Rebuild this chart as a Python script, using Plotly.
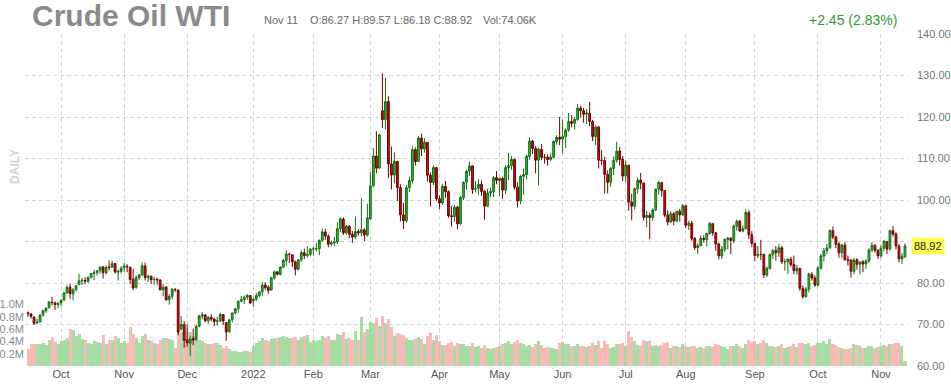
import pandas as pd
import plotly.graph_objects as go

# ---------------- data ----------------
holidays = ["2021-11-25", "2021-12-24", "2022-01-17", "2022-02-21", "2022-04-15",
            "2022-05-30", "2022-06-20", "2022-07-04", "2022-09-05"]
start_date = "2021-09-16"
end_date = "2022-11-11"

opens = [
    72.80, 72.55, 71.80, 70.40, 70.60, 72.30, 73.30, 74.10, 75.40, 75.20, 74.80,
    75.20, 75.90, 77.60, 79.00, 77.40, 78.40, 79.60, 80.50, 80.60, 80.40, 81.40, 82.30, 82.50, 83.00, 83.90, 82.50, 83.90, 83.80, 84.70, 82.60, 82.80,
    83.70, 84.00, 83.80, 80.90, 79.00, 81.30, 81.90, 84.10, 81.30, 81.60, 80.80, 80.90, 80.70, 78.40, 79.00, 76.00, 76.80, 78.40, 78.30, 69.00, 70.00,
    66.30, 65.50, 66.60, 66.30, 69.60, 72.00, 72.30, 70.90, 71.70, 71.30, 70.70, 70.90, 72.40, 70.50, 68.30, 71.20, 72.80, 73.80, 75.60, 76.00, 76.60, 77.00,
    75.70, 76.10, 77.00, 77.90, 79.50, 79.00, 78.30, 81.20, 82.70, 82.10, 83.80, 85.40, 86.90, 86.80, 85.10, 83.30, 85.60, 87.30, 86.60, 86.90,
    88.20, 88.20, 88.30, 90.30, 92.30, 91.30, 89.40, 89.70, 89.90, 93.10, 95.40, 92.10, 93.60, 91.80, 91.10, 92.40, 92.10, 92.80, 91.60,
    95.50, 103.50, 110.60, 107.70, 121.50, 119.40, 123.70, 108.70, 106.00, 109.30, 103.00, 96.40, 95.00, 103.00, 104.70, 112.10, 109.30, 114.90, 112.30, 113.90, 106.00, 104.20, 107.80,
    100.30, 99.30, 103.30, 102.00, 96.20, 96.00, 98.30, 94.30, 100.60, 104.30, 107.00, 108.20, 102.60, 102.80, 103.80, 102.10, 98.50, 101.70, 102.00, 105.40,
    104.70, 105.20, 102.40, 107.80, 108.30, 109.80, 103.10, 99.80, 105.70, 106.10, 110.50, 114.20, 112.40, 109.60, 112.20, 110.30, 110.30, 109.80, 110.30, 114.10, 115.10,
    114.70, 115.30, 116.90, 118.90, 118.50, 119.40, 122.10, 121.50, 120.70, 120.90, 118.90, 115.30, 117.60, 109.60, 109.50, 106.20, 104.30, 107.60, 109.60, 111.80, 109.80,
    105.80, 108.40, 99.50, 98.50, 102.70, 104.80, 104.10, 95.80, 96.30, 95.80, 97.60, 102.60, 104.20, 102.30, 96.40, 94.70, 96.70, 95.00, 97.30, 96.40,
    98.60, 93.90, 94.40, 90.70, 88.50, 89.00, 90.80, 90.50, 91.90, 94.30, 92.10, 89.40, 86.50, 88.10, 90.50, 90.80, 90.20, 93.70, 94.90, 92.50, 93.10, 97.00, 91.60,
    89.50, 86.60, 86.90, 86.90, 81.90, 83.50, 86.80, 87.80, 87.30, 88.50, 85.10, 85.10, 85.70, 84.50, 82.90, 83.50, 78.70, 76.70, 78.50, 82.10, 81.20,
    79.50, 83.60, 86.50, 87.80, 88.50, 92.60, 91.10, 89.40, 87.30, 89.10, 85.60, 85.50, 82.80, 85.60, 84.50, 85.10, 84.60, 85.30, 87.90, 89.10, 87.90,
    86.50, 88.40, 90.00, 88.20, 92.60, 91.80, 88.90, 85.80, 86.27,
]

highs = [
    73.15, 72.75, 71.95, 71.40, 72.50, 73.60, 74.10, 75.60, 76.67, 75.50, 75.40,
    76.00, 77.80, 79.50, 79.78, 78.80, 79.48, 82.18, 81.20, 81.40, 81.60, 82.40, 83.20, 83.10, 83.90, 84.00, 84.20, 85.40, 85.41, 84.80, 83.20, 84.00,
    84.88, 84.50, 83.90, 83.40, 81.80, 82.20, 84.97, 84.90, 82.00, 81.80, 81.50, 81.30, 80.90, 79.80, 79.30, 77.30, 78.80, 78.80, 78.40, 72.00, 70.80,
    70.00, 67.30, 69.00, 69.90, 72.37, 73.00, 72.50, 72.10, 72.50, 71.60, 71.80, 72.80, 72.50, 70.60, 71.30, 72.90, 73.90, 75.80, 76.90, 77.00, 77.30, 77.10,
    76.50, 77.60, 78.00, 80.24, 80.20, 79.40, 81.50, 83.00, 82.90, 84.00, 85.80, 87.90, 87.30, 86.90, 85.40, 85.70, 87.90, 88.30, 88.84, 88.40,
    88.80, 89.70, 90.50, 93.17, 93.00, 91.70, 90.20, 91.10, 94.66, 95.82, 95.80, 94.00, 94.00, 92.50, 96.00, 93.00, 100.54, 93.20, 99.10,
    106.78, 112.51, 116.57, 116.00, 130.50, 129.44, 125.00, 112.90, 111.50, 109.40, 103.80, 99.30, 103.60, 105.60, 112.90, 112.70, 115.40, 116.00, 114.90, 114.00, 106.60, 108.40, 108.00,
    101.10, 103.80, 104.60, 102.30, 98.60, 98.80, 98.60, 101.00, 104.50, 107.20, 109.20, 108.40, 104.50, 105.00, 104.70, 102.30, 102.70, 103.00, 105.80, 107.00,
    105.40, 105.60, 108.40, 111.37, 110.60, 110.00, 104.30, 106.00, 107.60, 110.90, 115.10, 114.50, 113.00, 112.60, 113.50, 111.10, 111.00, 111.20, 114.40, 115.60, 119.98,
    119.40, 117.20, 120.99, 120.50, 120.00, 123.18, 122.70, 122.20, 122.00, 123.68, 119.30, 118.00, 117.80, 112.00, 110.40, 107.10, 107.90, 110.50, 114.05, 112.80, 110.60,
    109.50, 108.40, 101.50, 103.00, 105.40, 106.50, 104.20, 97.30, 97.00, 98.00, 102.70, 104.60, 104.40, 102.30, 97.50, 97.30, 97.10, 97.40, 97.90, 99.10,
    98.80, 95.00, 95.00, 91.10, 89.60, 91.40, 91.50, 92.00, 94.70, 94.40, 92.20, 89.70, 88.90, 90.70, 91.10, 91.00, 94.10, 95.30, 95.20, 93.90, 97.70, 97.50, 92.50,
    89.80, 88.90, 90.40, 87.00, 84.00, 87.10, 88.20, 88.90, 89.40, 88.90, 85.90, 86.00, 86.30, 86.60, 84.40, 83.70, 79.40, 79.00, 82.50, 82.60, 81.80,
    84.00, 87.00, 88.40, 89.40, 92.90, 93.64, 91.30, 89.90, 89.50, 89.80, 86.60, 85.80, 86.00, 86.00, 85.20, 85.50, 85.70, 88.40, 89.80, 89.30, 88.10,
    89.10, 90.40, 90.10, 92.90, 93.74, 92.20, 89.40, 87.20, 89.57,
]

lows = [
    71.80, 71.40, 69.90, 70.10, 70.50, 71.90, 72.80, 73.80, 74.60, 73.50, 73.90,
    74.30, 75.60, 77.40, 76.20, 75.80, 78.00, 79.50, 79.50, 79.70, 80.00, 81.10, 80.70, 81.80, 82.20, 81.10, 82.00, 83.10, 83.70, 82.30, 80.60, 82.30,
    82.70, 82.60, 79.80, 78.25, 78.60, 80.70, 81.80, 80.60, 80.20, 79.80, 79.60, 79.60, 78.20, 76.80, 75.70, 74.80, 76.10, 77.80, 67.40, 68.50, 64.40,
    64.60, 62.43, 65.00, 66.20, 69.30, 71.20, 70.50, 70.20, 70.80, 69.60, 69.70, 70.60, 69.90, 66.10, 68.00, 70.50, 72.50, 72.80, 75.40, 75.00, 75.90, 74.90,
    74.30, 75.70, 76.50, 76.80, 78.30, 77.40, 78.10, 80.80, 81.80, 81.80, 83.60, 84.20, 84.80, 83.80, 81.80, 83.00, 85.10, 85.80, 86.10, 86.40,
    86.60, 87.60, 86.70, 89.90, 90.40, 88.60, 88.80, 88.90, 89.40, 92.20, 91.60, 91.60, 90.80, 89.70, 90.60, 91.40, 91.20, 90.10, 91.20,
    95.20, 103.00, 106.40, 107.40, 117.30, 117.00, 105.33, 102.50, 104.00, 99.76, 94.82, 93.00, 94.50, 101.90, 104.00, 108.30, 109.10, 110.60, 111.40, 104.50, 98.44, 103.60, 99.80,
    97.80, 98.80, 100.50, 95.70, 93.60, 94.80, 92.93, 93.90, 100.00, 102.50, 105.80, 101.50, 101.80, 101.30, 101.00, 95.28, 98.30, 100.60, 100.70, 103.80,
    101.00, 100.30, 101.40, 104.80, 107.30, 102.50, 98.20, 99.00, 101.30, 105.00, 109.70, 111.10, 106.40, 103.50, 109.60, 108.80, 108.30, 109.40, 110.00, 113.30, 113.20,
    111.20, 112.50, 116.40, 117.50, 117.00, 119.10, 119.90, 118.60, 118.30, 117.80, 114.20, 113.20, 107.60, 108.40, 101.53, 101.60, 103.20, 106.00, 109.00, 108.30, 104.56,
    104.30, 97.43, 95.10, 97.70, 101.50, 102.60, 95.10, 93.50, 90.56, 95.00, 97.40, 101.30, 100.80, 95.80, 93.90, 94.50, 93.90, 94.60, 94.80, 96.20,
    93.20, 92.80, 90.20, 87.90, 87.00, 88.80, 89.70, 88.80, 91.80, 91.40, 87.80, 85.70, 85.80, 87.50, 88.10, 86.90, 89.60, 92.60, 92.30, 92.20, 92.90, 90.60, 88.70,
    85.30, 86.00, 85.50, 81.20, 81.50, 83.30, 85.80, 85.40, 86.30, 84.60, 83.00, 82.20, 83.90, 82.10, 82.00, 78.10, 76.25, 76.40, 77.70, 80.60, 79.10,
    79.20, 83.20, 85.20, 87.00, 88.30, 90.60, 88.40, 86.10, 85.90, 85.40, 84.20, 81.30, 82.10, 83.20, 82.10, 82.60, 83.40, 84.80, 87.40, 87.30, 85.80,
    86.10, 87.60, 87.00, 87.80, 91.20, 88.10, 85.00, 84.60, 86.18,
]

closes = [
    72.61, 71.97, 70.29, 70.56, 72.23, 73.30, 73.98, 75.45, 75.29, 74.83, 75.03,
    75.88, 77.62, 78.93, 77.43, 78.30, 79.35, 80.52, 80.64, 80.44, 81.31, 82.28, 82.44, 82.96, 83.87, 82.50, 83.76, 83.76, 84.65, 82.66, 82.81, 83.57,
    84.05, 83.91, 80.86, 78.81, 81.27, 81.93, 84.15, 81.34, 81.59, 80.79, 80.88, 80.76, 78.36, 79.01, 75.94, 76.75, 78.50, 78.39, 68.15, 69.95, 66.18,
    65.57, 66.50, 66.26, 69.49, 72.05, 72.36, 70.94, 71.67, 71.29, 70.73, 70.87, 72.38, 70.86, 68.23, 71.12, 72.76, 73.79, 75.57, 75.98, 76.56, 76.99, 75.21,
    76.08, 76.99, 77.85, 79.46, 78.90, 78.23, 81.22, 82.64, 82.12, 83.82, 85.43, 86.96, 86.90, 85.14, 83.31, 85.60, 87.35, 86.61, 86.82, 88.15,
    88.20, 88.26, 90.27, 92.31, 91.32, 89.36, 89.66, 89.88, 93.10, 95.46, 92.07, 93.66, 91.76, 91.07, 92.35, 92.10, 92.81, 91.59, 95.72,
    103.41, 110.60, 107.67, 115.68, 119.40, 123.70, 108.70, 106.02, 109.33, 103.01, 96.44, 95.04, 102.98, 104.70, 112.12, 109.27, 114.93, 112.34, 113.90, 105.96, 104.24, 107.82, 100.28,
    99.27, 103.28, 101.96, 96.23, 96.03, 98.26, 94.29, 100.60, 104.25, 106.95, 108.21, 102.56, 102.75, 103.79, 102.07, 98.54, 101.70, 102.02, 105.36, 104.69,
    105.17, 102.41, 107.81, 108.26, 109.77, 103.09, 99.76, 105.71, 106.13, 110.49, 114.20, 112.40, 109.59, 112.21, 110.28, 110.29, 109.77, 110.33, 114.09, 115.07, 114.67,
    115.26, 116.87, 118.87, 118.50, 119.41, 122.11, 121.51, 120.67, 120.93, 118.93, 115.31, 117.59, 109.56, 109.52, 106.19, 104.27, 107.62, 109.57, 111.76, 109.78, 105.76,
    108.43, 99.50, 98.53, 102.73, 104.79, 104.09, 95.84, 96.30, 95.78, 97.59, 102.60, 104.22, 102.26, 96.35, 94.70, 96.70, 94.98, 97.26, 96.42, 98.62,
    93.89, 94.42, 90.66, 88.54, 89.01, 90.76, 90.50, 91.93, 94.34, 92.09, 89.41, 86.53, 88.11, 90.50, 90.77, 90.23, 93.74, 94.89, 92.52, 93.06, 97.01, 91.64, 89.55,
    86.61, 86.87, 86.88, 81.94, 83.54, 86.79, 87.78, 87.31, 88.48, 85.10, 85.11, 85.73, 84.45, 82.94, 83.49, 78.74, 76.71, 78.50, 82.15, 81.23, 79.49,
    83.63, 86.52, 87.76, 88.45, 92.64, 91.13, 89.35, 87.27, 89.11, 85.61, 85.46, 82.82, 85.55, 84.51, 85.05, 84.58, 85.32, 87.91, 89.08, 87.90, 86.53,
    88.37, 90.00, 88.17, 92.61, 91.79, 88.91, 85.83, 86.47, 88.92,
]

volumes_k = [
    280, 360, 355, 350, 360, 380, 340, 420, 470, 390, 350,
    400, 430, 460, 600, 580, 480, 520, 440, 420, 380, 360, 400, 390, 380, 500, 360, 420, 430, 480, 450, 380,
    400, 380, 630, 520, 450, 380, 480, 520, 420, 400, 380, 360, 420, 450, 460, 440, 430, 300, 540, 560, 600,
    560, 550, 480, 420, 430, 400, 380, 350, 360, 370, 380, 340, 300, 330, 280, 250, 240, 220, 230, 250, 240, 220,
    330, 380, 400, 460, 420, 400, 440, 460, 450, 470, 480, 470, 460, 450, 470, 430, 470, 480, 500, 390,
    420, 400, 420, 480, 460, 480, 420, 430, 520, 500, 560, 440, 460, 430, 570, 420, 800, 550, 600,
    720, 700, 780, 650, 820, 700, 760, 640, 480, 530, 520, 500, 450, 420, 430, 440, 470, 440, 350, 480, 540, 420, 500,
    400, 340, 340, 380, 390, 320, 380, 360, 350, 330, 320, 380, 310, 320, 300, 340, 300, 270, 300, 310,
    330, 360, 380, 400, 350, 390, 420, 380, 350, 330, 340, 310, 350, 410, 340, 300, 310, 290, 300, 270, 370,
    390, 350, 360, 330, 320, 350, 320, 330, 310, 330, 370, 340, 400, 290, 400, 360, 290, 310, 350, 360, 380,
    330, 570, 470, 400, 340, 320, 430, 400, 410, 320, 340, 330, 340, 380, 390, 300, 320, 330, 310, 350,
    330, 310, 330, 320, 300, 310, 300, 320, 330, 310, 350, 340, 330, 310, 270, 320, 330, 350, 320, 300, 350, 420, 390,
    400, 350, 380, 420, 370, 330, 320, 310, 330, 350, 300, 310, 320, 350, 310, 380, 380, 350, 370, 330, 340,
    370, 380, 400, 350, 440, 350, 340, 310, 300, 280, 270, 300, 350, 340, 320, 300, 300, 320, 330, 300, 310,
    330, 340, 320, 350, 360, 370, 380, 330, 74.06,
]

volume_ticks = [200000, 400000, 600000, 800000, 1000000]
volume_ticktext = ["0.2M", "0.4M", "0.6M", "0.8M", "1.0M"]
price_ticks = [60, 70, 80, 90, 100, 110, 120, 130, 140]

# ---------------- build ----------------
dates = pd.bdate_range(start_date, end_date)
dates = dates[~dates.isin(pd.to_datetime(holidays))]
n = min(len(dates), len(closes), len(opens), len(highs), len(lows), len(volumes_k))
if len(dates) != len(closes):
    print("length mismatch", len(dates), len(closes), len(opens), len(highs), len(lows), len(volumes_k))
dates = dates[:n]
xs = list(range(n))

tickvals, ticktext = [], []
for i in range(1, n):
    if dates[i].month != dates[i - 1].month:
        tickvals.append(i)
        ticktext.append(str(dates[i].year) if dates[i].month == 1 else dates[i].strftime("%b"))

vol_colors = ["rgba(140,212,140,0.78)" if closes[i] >= opens[i] else "rgba(246,158,158,0.72)"
              for i in range(n)]

fig = go.Figure()
fig.add_trace(go.Bar(
    x=xs, y=[v * 1000 for v in volumes_k[:n]], marker=dict(color=vol_colors, line=dict(width=0)),
    width=1.0, yaxis="y", hoverinfo="skip", showlegend=False))
fig.add_trace(go.Candlestick(
    x=xs, open=opens[:n], high=highs[:n], low=lows[:n], close=closes[:n], yaxis="y2",
    increasing=dict(fillcolor="#33bb33", line=dict(color="#117011", width=1)),
    decreasing=dict(fillcolor="#cc1111", line=dict(color="#740000", width=1)),
    whiskerwidth=0, showlegend=False, hoverinfo="skip"))

ML, MR, MT, MB = 25, 43, 34, 18
W, H = 951, 384
PW, PH = W - ML - MR, H - MT - MB


def px(x):
    return (x - ML) / PW


def py(y):
    return (H - MB - y) / PH


FONT = "Liberation Sans, Arial, sans-serif"
chg = closes[n - 1] - closes[n - 2]
pct = chg / closes[n - 2] * 100
ohlc_text = f"O:{opens[n-1]:.2f} H:{highs[n-1]:.2f} L:{lows[n-1]:.2f} C:{closes[n-1]:.2f}"

annotations = [
    dict(x=px(30), y=py(16), text="<b>Crude Oil WTI</b>", font=dict(size=30, color="#8a8a8a", family=FONT)),
    dict(x=px(262), y=py(20), text=dates[n - 1].strftime("%b %d").replace(" 0", " "), font=dict(size=11, color="#666666", family=FONT)),
    dict(x=px(308), y=py(20), text=ohlc_text, font=dict(size=11, color="#666666", family=FONT)),
    dict(x=px(481), y=py(20), text=f"Vol:{volumes_k[n-1]:.2f}K", font=dict(size=11, color="#666666", family=FONT)),
    dict(x=px(899), y=py(20), xanchor="right", text=f"{chg:+.2f} ({pct:.2f}%)", font=dict(size=14, color="#2e9a2e", family=FONT)),
    dict(x=px(15), y=py(167), xanchor="center", text="<b>DAILY</b>", textangle=-90, font=dict(size=12, color="#d2d2d2", family=FONT)),
]
for a in annotations:
    a.setdefault("xanchor", "left")
    a.update(xref="paper", yref="paper", yanchor="middle", showarrow=False)
annotations.append(dict(
    x=1, xref="paper", xanchor="left", xshift=3, y=closes[n - 1], yref="y2", yanchor="middle",
    text=f"{closes[n-1]:.2f}", showarrow=False, bgcolor="#ffff55", borderpad=2,
    font=dict(size=11, color="#222222", family=FONT)))

GRID = "#d4d4d4"
DASH = "4px,3px"
fig.update_layout(
    width=W, height=H, margin=dict(l=ML, r=MR, t=MT, b=MB, autoexpand=False),
    paper_bgcolor="white", plot_bgcolor="white", font=dict(family=FONT),
    bargap=0, boxgap=0.15, showlegend=False, annotations=annotations,
    xaxis=dict(range=[-1, n], tickvals=tickvals, ticktext=ticktext, showgrid=True,
               gridcolor=GRID, griddash=DASH, gridwidth=1, zeroline=False,
               showline=False, ticks="", tickfont=dict(size=11, color="#555555"),
               rangeslider=dict(visible=False), fixedrange=True, automargin=False),
    yaxis=dict(range=[0, 5.4e6], side="left", tickvals=volume_ticks, ticktext=volume_ticktext,
               showgrid=False, zeroline=False, showline=False, ticks="", automargin=False,
               tickfont=dict(size=11, color="#888888"), ticklabelstandoff=0),
    yaxis2=dict(range=[60, 140], overlaying="y", side="right", tickvals=price_ticks,
                ticktext=["" if t == 90 else f"{t:.2f}" for t in price_ticks],
                showgrid=True, gridcolor=GRID, griddash=DASH, gridwidth=1, automargin=False,
                zeroline=False, showline=False, ticks="",
                tickfont=dict(size=11, color="#777777"), ticklabelstandoff=8),
)

fig.write_html("out.html", config={"displayModeBar": False},
               post_script="document.body.style.margin='0px';document.body.style.overflow='hidden';")
